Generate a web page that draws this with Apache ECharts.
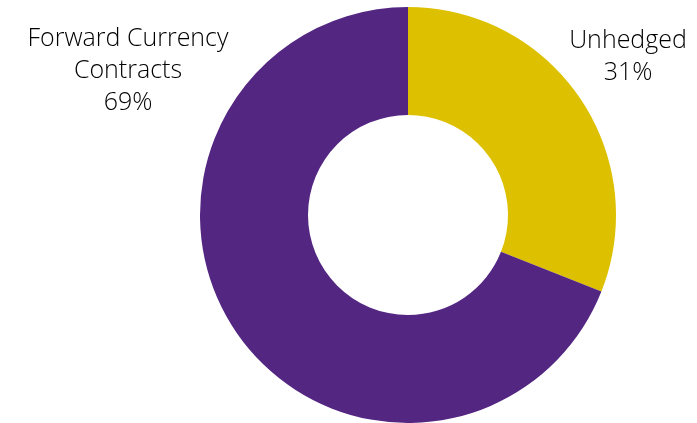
<!DOCTYPE html>
<html><head><meta charset="utf-8">
<script src="https://cdn.jsdelivr.net/npm/echarts@6/dist/echarts.min.js"></script>
<style>html,body{margin:0;padding:0;background:#fff}#c{width:697px;height:423px}</style>
</head><body><div id="c"></div>
<script>
const categories = ['Unhedged', 'Forward Currency\nContracts'];
const values = [31, 69];
const colors = ['#DDC000', '#532682'];
const labelPos = [[628, 25], [128, 23]];

const chart = echarts.init(document.getElementById('c'), null, {renderer: 'canvas'});
chart.setOption({
  animation: false,
  series: [{
    type: 'pie',
    center: [408, 215],
    radius: [100, 208],
    startAngle: 90,
    clockwise: true,
    silent: true,
    avoidLabelOverlap: false,
    data: categories.map((n, i) => ({name: n, value: values[i], itemStyle: {color: colors[i]}})),
    label: {
      show: true,
      position: 'outside',
      formatter: p => p.name + '\n' + p.value + '%',
      fontFamily: 'Open Sans',
      fontWeight: 300,
      fontSize: 25,
      lineHeight: 32,
      color: '#000',
      align: 'center',
      overflow: 'none',
      width: 300
    },
    labelLine: {show: false},
    labelLayout: function (params) {
      const p = labelPos[params.dataIndex];
      return {x: p[0], y: p[1], align: 'center', verticalAlign: 'top'};
    }
  }]
});
</script></body></html>
